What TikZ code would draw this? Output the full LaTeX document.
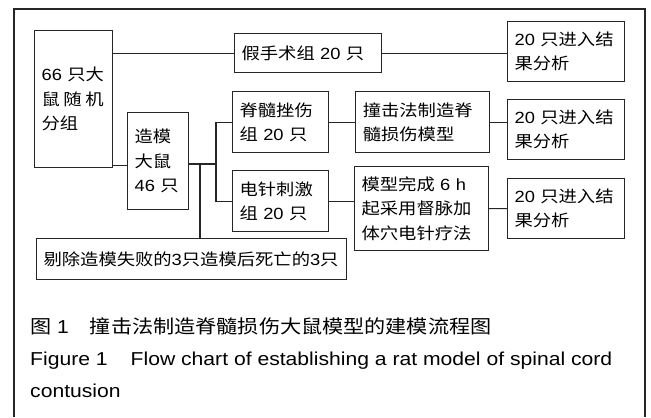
\documentclass[tikz,border=0pt]{standalone}
\usepackage{fontspec}
\setmainfont[FakeStretch=1.13]{Liberation Sans}
\newfontfamily\cjk[FakeStretch=1.13]{Noto Sans CJK SC}
\newcommand{\zh}[1]{{\cjk #1}}
\usetikzlibrary{positioning}

\begin{document}
\begin{tikzpicture}[
    x=1bp, y=-1bp,
    font=\fontsize{16.2bp}{24.5bp}\selectfont,
    box/.style={draw=black!85, line width=1.2bp, anchor=north west, align=left,
                inner xsep=7bp, inner ysep=0pt},
    link/.style={draw=black!85, line width=1.2bp},
    captxt/.style={anchor=base west, align=left, inner sep=0pt,
                font=\fontsize{18.7bp}{31.5bp}\selectfont},
  ]
  \useasboundingbox (0,0) rectangle (651,417);
  % outer frame, open at the bottom
  \draw[line width=1.1bp, black!85] (14,417) |- (645,9) -- (645,417);

  \node[box, text width=64bp, minimum height=137bp] (rand) at (34,30)
    {66 \zh{只大}\\\makebox[62bp][s]{\zh{鼠}\hfill\zh{随}\hfill\zh{机}}\\\zh{分组}};
  \node[box, text width=133bp, minimum height=39bp] (sham) at (234,33)
    {\zh{假手术组} 20 \zh{只}};
  \node[box, text width=103bp, minimum height=60bp] (res1) at (507,21)
    {20 \zh{只进入结}\\\zh{果分析}};

  \node[box, text width=47bp, minimum height=97bp] (model) at (127,112)
    {\zh{造模}\\\zh{大鼠}\\46 \zh{只}};
  \node[box, text width=82bp, minimum height=61bp] (sci) at (232,91)
    {\zh{脊髓挫伤}\\\zh{组} 20 \zh{只}};
  \node[box, text width=120bp, minimum height=61bp, right=26bp of sci.north east,
        anchor=north west] (impact) {\zh{撞击法制造脊}\\\zh{髓损伤模型}};
  \node[box, text width=103bp, minimum height=60bp] (res2) at (507,99)
    {20 \zh{只进入结}\\\zh{果分析}};

  \node[box, text width=82bp, minimum height=61bp, below=17bp of sci.south west,
        anchor=north west] (ea) {\zh{电针刺激}\\\zh{组} 20 \zh{只}};
  \node[box, text width=120bp, minimum height=84bp] (treat) at (354,166)
    {\zh{模型完成} 6 h\\\zh{起采用督脉加}\\\zh{体穴电针疗法}};
  \node[box, text width=103bp, minimum height=60bp] (res3) at (507,178)
    {20 \zh{只进入结}\\\zh{果分析}};

  \node[box, text width=296bp, minimum height=41bp] (excl) at (36,238)
    {\zh{剔除造模失败的}3\zh{只造模后死亡的}3\zh{只}};

  % junctions
  \coordinate (fork) at (216,164);
  \coordinate (drop) at (200,164);

  \draw[link] (rand.east |- sham.west) -- (sham.west);
  \draw[link] (sham.east) -- (sham.east -| res1.west);
  \draw[link] ([yshift=3bp]rand.south east) -- ([yshift=3bp]rand.south east -| model.west);
  \draw[link] (model.east |- fork) -- (fork);
  \draw[link] (sci.west) -| (fork) |- (ea.west);
  \draw[link] (drop) -- (drop |- excl.north);
  \draw[link] (sci) -- (impact);
  \draw[link] (impact.east) -- (impact.east -| res2.west);
  \draw[link] (ea.east) -- (ea.east -| treat.west);
  \draw[link] (treat) -- (res3);

  % caption (base of a two-line node sits on its last line)
  \node[captxt] (capzh) at (30,333)
    {\zh{图} 1\hspace{21bp}\zh{撞击法制造脊髓损伤大鼠模型的建模流程图}};
  \node[captxt] (capen) at (30,397)
    {Figure 1\hspace{23bp}Flow chart of establishing a rat model of spinal cord\\contusion};
\end{tikzpicture}
\end{document}
